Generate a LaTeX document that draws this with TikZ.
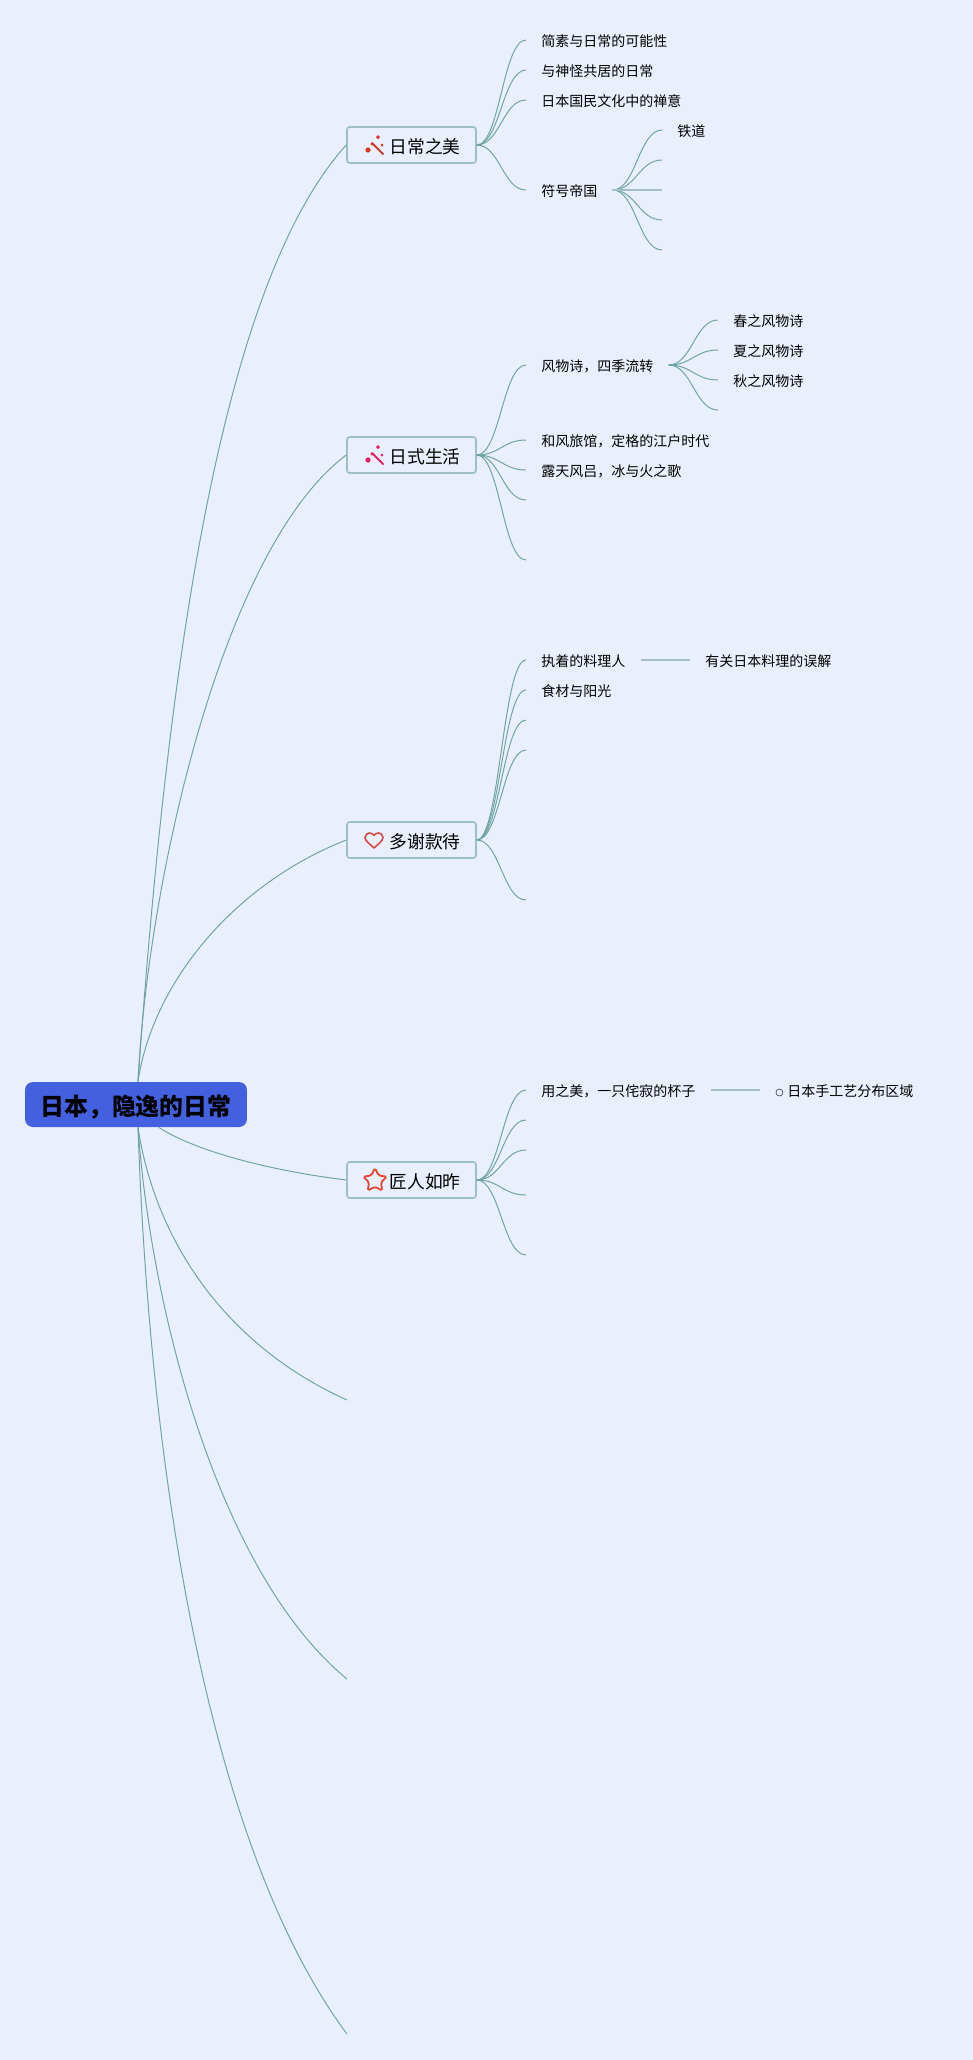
\documentclass[tikz,border=0pt]{standalone}
\usepackage{fontspec}
\setmainfont{Noto Sans CJK SC}
\newfontfamily\symfont{DejaVu Sans}
\usetikzlibrary{calc}

\definecolor{bgmind}{HTML}{E9EFFC}
\definecolor{rootblue}{HTML}{4360DF}
\definecolor{branchteal}{HTML}{6DA3A3}
\definecolor{straightteal}{HTML}{A3C0C8}
\definecolor{topicedge}{HTML}{9CC0C4}
\definecolor{wandred}{HTML}{D8352A}
\definecolor{wandpink}{HTML}{E91E63}
\definecolor{heartred}{HTML}{D9504A}
\definecolor{starred}{HTML}{E8432E}

\tikzset{
	rootnode/.style={fill=rootblue, rounded corners=4.5pt, minimum width=4.44cm, minimum height=.9cm, inner sep=0pt, text height=13.5pt, text depth=.5pt, font=\fontsize{13.6pt}{16pt}\selectfont\bfseries},
	topic/.style={draw=topicedge, line width=0.9pt, fill=bgmind, rounded corners=1.5pt, minimum width=2.58cm, minimum height=.72cm, inner sep=0pt, text height=9.6pt, text depth=.5pt, font=\fontsize{10.1pt}{12pt}\selectfont},
	leaf/.style={anchor=west, inner xsep=.3cm, inner ysep=0pt, text height=8pt, text depth=.4pt, font=\fontsize{7.97pt}{10pt}\selectfont},
	branch/.style={draw=branchteal, line width=0.55pt},
	straight/.style={draw=straightteal, line width=0.85pt},
	wandicon/.pic={
		\draw[pic actions, line width=1.2pt, line cap=round] (-3,-2) -- (8,9);
		\fill[pic actions] (3,-8) circle (1.5);
		\fill[pic actions] (7,0) circle (1);
		\fill[pic actions] (-7,5) circle (2.2);
		\fill[pic actions] (-3,-1) circle (1.2);
	},
	hearticon/.pic={
		\draw[pic actions, line width=0.95pt, line join=round] (0,7.5) .. controls (-3,4.5) and (-9,0.5) .. (-9,-3) .. controls (-9,-6) and (-6.5,-7.5) .. (-4.5,-7.5) .. controls (-2.5,-7.5) and (-1,-6.5) .. (0,-5) .. controls (1,-6.5) and (2.5,-7.5) .. (4.5,-7.5) .. controls (6.5,-7.5) and (9,-6) .. (9,-3) .. controls (9,0.5) and (3,4.5) .. cycle;
	},
	staricon/.pic={
		\draw[pic actions, line width=1pt, rounded corners=1pt] (-90:12.5) -- (-54:6.2) -- (-18:12.5) -- (18:6.2) -- (54:12.5) -- (90:6.2) -- (126:12.5) -- (162:6.2) -- (198:12.5) -- (234:6.2) -- cycle;
	}
}

% S-shaped link between two levels
\newcommand{\leafcurve}[2]{\draw[branch] (#1) .. controls +(23,0) and +(-23,0) .. (#2);}

\begin{document}
\begin{tikzpicture}[x=0.02cm,y=-0.02cm]
	\useasboundingbox (0,0) rectangle (973,2060);
	\fill[bgmind] (0,0) rectangle (973,2060);

	% Root and main topics
	\node[rootnode] (root) at (136,1104.5) {日本，隐逸的日常};
	\node[topic] (T1) at (411.5,145) {\hspace*{.54cm}日常之美};
	\node[topic] (T2) at (411.5,455) {\hspace*{.54cm}日式生活};
	\node[topic] (T3) at (411.5,840) {\hspace*{.54cm}多谢款待};
	\node[topic] (T4) at (411.5,1180) {\hspace*{.54cm}匠人如昨};
	\coordinate (T5) at (347,1400);
	\coordinate (T6) at (347,1679);
	\coordinate (T7) at (347,2034);
	\coordinate (rtop) at ($(root.north)+(2,0)$);
	\coordinate (rbot) at ($(root.south)+(2,0)$);

	% Icons
	\pic[draw=wandred, fill=wandred] at (375,145) {wandicon};
	\pic[draw=wandpink, fill=wandpink] at (375,455) {wandicon};
	\pic[draw=heartred] at (374,840.5) {hearticon};
	\pic[draw=starred] at (375,1180.5) {staricon};

	% Root connections
	\draw[branch] (rtop) .. controls (165,700) and (215,290) .. (T1.west);
	\draw[branch] (rtop) .. controls (147,890) and (220,550) .. (T2.west);
	\draw[branch] (rtop) .. controls (152,985) and (232,885) .. (T3.west);
	\draw[branch] (root.-45) .. controls (185,1145) and (250,1168) .. (T4.west);
	\draw[branch] (rbot) .. controls (155,1240) and (225,1345) .. (T5);
	\draw[branch] (rbot) .. controls (150,1300) and (215,1570) .. (T6);
	\draw[branch] (rbot) .. controls (150,1480) and (210,1850) .. (T7);

	% First topic
	\node[leaf] (L11) at (526,40) {简素与日常的可能性};
	\node[leaf] (L12) at (526,70) {与神怪共居的日常};
	\node[leaf] (L13) at (526,100) {日本国民文化中的禅意};
	\node[leaf] (L14) at (526,190) {符号帝国};
	\node[leaf] (L141) at (662,130) {铁道};
	\foreach \n in {L11,L12,L13,L14} {
		\leafcurve{T1.east}{\n.west}
	}
	\leafcurve{L14.east}{L141.west}
	\foreach \y in {160,220,250} {
		\coordinate (E1\y) at (662,\y);
		\leafcurve{L14.east}{E1\y}
	}
	\coordinate (E1m) at (662,190);
	\draw[straight] (L14.east) -- (E1m);

	% Second topic
	\node[leaf] (L21) at (526,365) {风物诗，四季流转};
	\node[leaf] (L22) at (526,440) {和风旅馆，定格的江户时代};
	\node[leaf] (L23) at (526,470) {露天风吕，冰与火之歌};
	\node[leaf] (L211) at (718,320) {春之风物诗};
	\node[leaf] (L212) at (718,350) {夏之风物诗};
	\node[leaf] (L213) at (718,380) {秋之风物诗};
	\coordinate (E214) at (718,410);
	\coordinate (E24) at (526,500);
	\coordinate (E25) at (526,560);
	\foreach \n in {L21.west,L22.west,L23.west,E24,E25} {
		\leafcurve{T2.east}{\n}
	}
	\foreach \n in {L211.west,L212.west,L213.west,E214} {
		\leafcurve{L21.east}{\n}
	}

	% Third topic
	\node[leaf] (L31) at (526,660) {执着的料理人};
	\node[leaf] (L32) at (526,690) {食材与阳光};
	\node[leaf] (L311) at (690,660) {有关日本料理的误解};
	\coordinate (E33) at (526,720);
	\coordinate (E34) at (526,750);
	\coordinate (E35) at (526,900);
	\foreach \n in {L31.west,L32.west,E33,E34,E35} {
		\leafcurve{T3.east}{\n}
	}
	\draw[straight] (L31.east) -- (L311.west);

	% Fourth topic
	\node[leaf] (L41) at (526,1090) {用之美，一只侘寂的杯子};
	\node[leaf] (L411) at (760,1090) {\raisebox{.9pt}{\symfont\fontsize{5.5pt}{10pt}\selectfont ○}\hspace{.07cm}日本手工艺分布区域};
	\coordinate (E42) at (526,1120);
	\coordinate (E43) at (526,1150);
	\coordinate (E44) at (526,1195);
	\coordinate (E45) at (526,1255);
	\foreach \n in {L41.west,E42,E43,E44,E45} {
		\leafcurve{T4.east}{\n}
	}
	\draw[straight] (L41.east) -- (L411.west);
\end{tikzpicture}
\end{document}
